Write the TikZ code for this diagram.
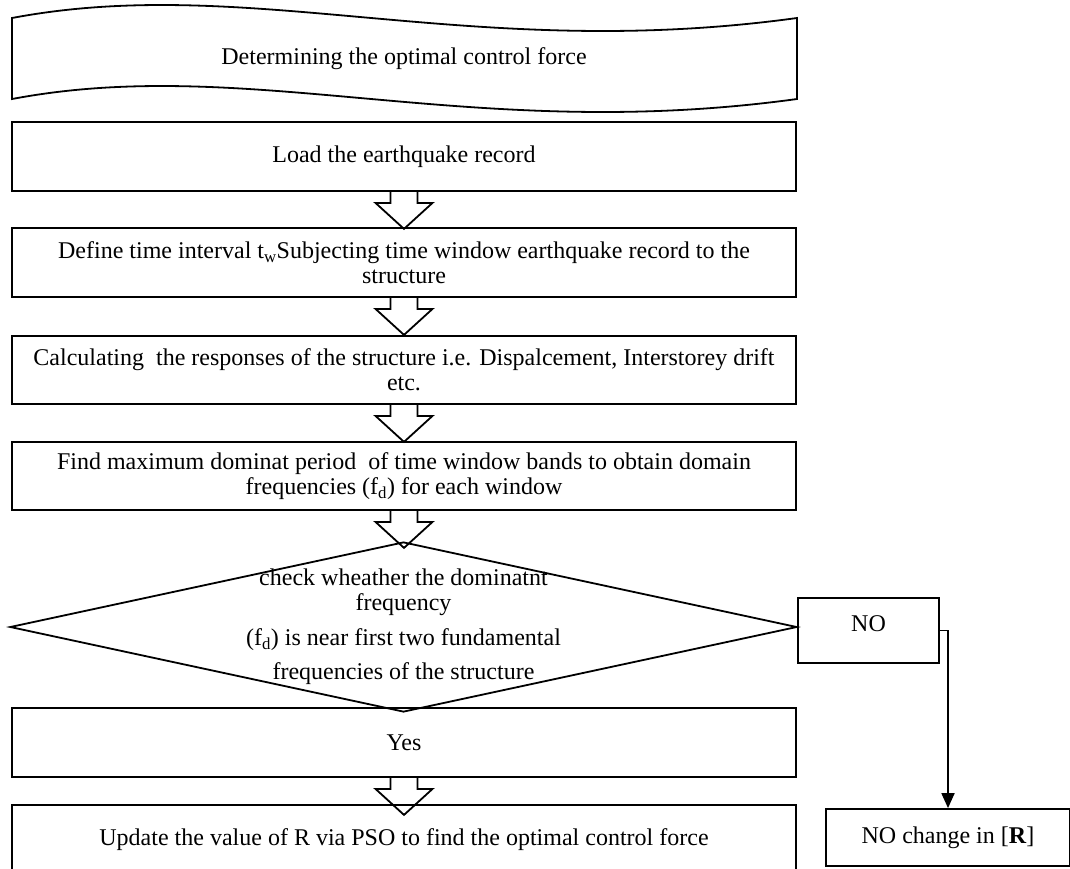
\documentclass[tikz,border=0pt]{standalone}
\usepackage{fontspec}
\setmainfont{Liberation Serif}
\usetikzlibrary{shapes.geometric, arrows.meta, calc}
\tikzstyle{stepbox} = [rectangle, minimum width=784pt, minimum height=69pt, text centered, align=center, draw=black, line width=1.8pt, inner sep=0pt]
\tikzstyle{decision} = [diamond, minimum width=787pt, minimum height=170pt, draw=black, line width=1.8pt, inner sep=0pt]
\tikzstyle{sidebox} = [rectangle, text centered, draw=black, line width=1.8pt, inner sep=0pt]
\tikzstyle{blockarrow} = [line width=1.8pt, line join=miter]
\tikzstyle{arrow} = [line width=1.8pt, -{Triangle[width=13pt,length=15pt]}]

% hollow down arrow hanging under a box
\newcommand{\blockdown}[1]{%
  \draw [blockarrow] ($(#1.south)+(-13.5,0)$) -- ++(0,11) -- ++(-15,0) -- ($(#1.south)+(0,37)$)
    -- ($(#1.south)+(28.5,11)$) -- ++(-15,0) -- ($(#1.south)+(13.5,0)$);
}

\begin{document}
\begin{tikzpicture}[x=1pt, y=-1pt, font=\fontsize{24}{25}\selectfont]
			\clip (0,0) rectangle (1070,868);
			% tape at the top
			\draw [line width=1.8pt] (12,18) .. controls (250,-27) and (470,63) .. (797,18) -- (797,99)
				.. controls (470,144) and (250,54) .. (12,99) -- cycle;
			\node (title) at (404,58.5) {Determining the optimal control force};

			\node (load) [stepbox] at (404,156.5) {Load the earthquake record};
			\node (define) [stepbox] at (404,262.5) {Define time interval t\textsubscript{w}Subjecting time window earthquake record to the\\structure};
			\node (calc) [stepbox, minimum height=68pt] at (404,370) {Calculating\ \ the responses of the structure i.e. Dispalcement, Interstorey drift\\etc.};
			\node (find) [stepbox, minimum height=68pt] at (404,476) {Find maximum dominat period\ \ of time window bands to obtain domain\\frequencies (f\textsubscript{d}) for each window};
			\node (check) [decision, label={[align=center]center:{check wheather the dominatnt\\frequency\\[10pt](f\textsubscript{d}) is near first two fundamental\\[9pt]frequencies of the structure}}] at (403.5,627) {};
			\node (no) [sidebox, minimum width=141pt, minimum height=65pt, text depth=14pt] at (868.5,630.5) {NO};
			\node (yes) [stepbox] at (404,742.5) {Yes};
			\node (update) [stepbox] at (404,839.5) {Update the value of R via PSO to find the optimal control force};
			\node (nochange) [sidebox, minimum width=244pt, minimum height=57pt] at (948,837.5) {NO change in [\textbf{R}]};

			\blockdown{load}
			\blockdown{define}
			\blockdown{calc}
			\blockdown{find}
			\blockdown{yes}
			\draw [arrow] (no.east) -| (nochange.north);
		\end{tikzpicture}
\end{document}
